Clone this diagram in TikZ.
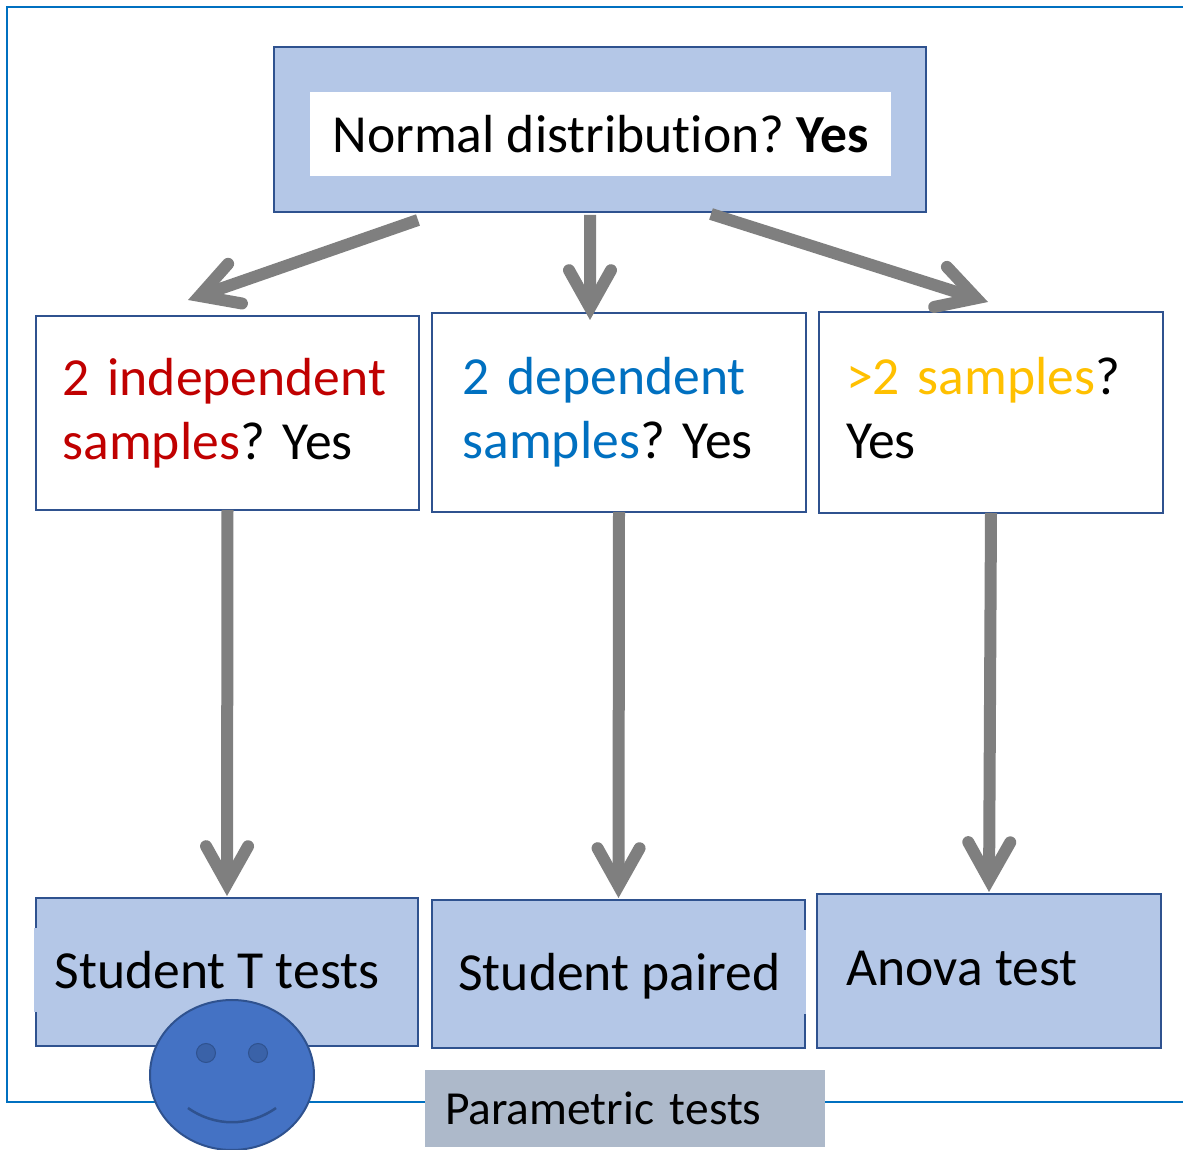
\documentclass[tikz,border=0pt]{standalone}
\usepackage{fontspec}
\setmainfont{Carlito}[Ligatures=NoCommon]
\frenchspacing
\usetikzlibrary{arrows.meta,shapes.geometric}
\definecolor{boxblue}{HTML}{B4C7E7}
\definecolor{boxline}{HTML}{2F528F}
\definecolor{framecol}{HTML}{0070C0}
\definecolor{arrowgray}{HTML}{7F7F7F}
\definecolor{tagfill}{HTML}{ADB9CA}
\definecolor{smilefill}{HTML}{4472C4}
\definecolor{eyefill}{HTML}{3A62A8}
\definecolor{redtxt}{HTML}{C00000}
\definecolor{yellowtxt}{HTML}{FFC000}
\tikzset{
    txt/.style={font=\fontsize{30.5}{36.4}\selectfont, text=black},
    box/.style={draw=boxline, line width=.05cm, rectangle, outer sep=0pt, txt},
    filledbox/.style={box, fill=boxblue},
    whitebox/.style={box, fill=white, align=left, text width=#1, inner xsep=0pt},
    cover/.style={rectangle, fill=boxblue, inner sep=0pt, text depth=0pt, txt},
    flow/.style={draw=arrowgray, line width=.24cm,
        -{Straight Barb[length=.75cm, width=.84cm, line cap=round, line join=miter]}},
    flowdown/.style={flow, shorten >=.04cm}
}
\begin{document}
\begin{tikzpicture}
    \useasboundingbox (0cm,0cm) rectangle (23.66cm,23cm);

    \coordinate (frameTR) at (23.66cm,22.86cm);
    \coordinate (frameTL) at (.14cm,22.86cm);
    \coordinate (frameBL) at (.14cm,.96cm);
    \coordinate (frameBR) at (23.66cm,.96cm);
    \draw[framecol, line width=.055cm] (frameTR) -- (frameTL) -- (frameBL) -- (frameBR);

    \node[filledbox,
    minimum width = 13.04cm,
    minimum height = 3.3cm
    ](top) at (12cm,20.41cm) {};
    \node[rectangle,
    fill=white,
    txt,
    inner sep=0pt,
    minimum width = 11.62cm,
    minimum height = 1.68cm
    ](toplabel) at (12.01cm,20.32cm) {Normal distribution? \textbf{Yes}};

    \node[whitebox=6.6cm,
    minimum width = 7.66cm,
    minimum height = 3.88cm
    ](indep) at (4.55cm,14.74cm) {\textcolor{redtxt}{2 independent\\samples}? Yes};
    \node[whitebox=6.26cm,
    minimum width = 7.48cm,
    minimum height = 3.98cm
    ](dep) at (12.38cm,14.75cm) {\textcolor{framecol}{2 dependent\\samples}? Yes};
    \node[whitebox=5.8cm,
    minimum width = 6.88cm,
    minimum height = 4.02cm
    ](many) at (19.82cm,14.75cm) {\textcolor{yellowtxt}{>2 samples}?\\Yes\vphantom{p}};

    \node[filledbox,
    minimum width = 7.64cm,
    minimum height = 2.96cm
    ](student) at (4.54cm,3.56cm) {};
    \node[cover,
    minimum width = 7.32cm,
    minimum height = 1.68cm
    ](studentlabel) at (4.34cm,3.6cm) {Student T tests};
    \node[filledbox,
    minimum width = 7.46cm,
    minimum height = 2.96cm
    ](paired) at (12.37cm,3.52cm) {};
    \node[cover,
    minimum width = 7.46cm,
    minimum height = 1.68cm
    ](pairedlabel) at (12.39cm,3.56cm) {Student paired};
    \node[filledbox,
    minimum width = 6.88cm,
    minimum height = 3.08cm
    ](anova) at (19.78cm,3.58cm) {};
    \node[txt](anovalabel) at (19.24cm,3.62cm) {Anova test};

    \draw[flow] ([xshift=-3.64cm,yshift=-.16cm]top.south) -- ([xshift=-.79cm,yshift=.32cm]indep.north);
    \draw[flow] ([xshift=-.2cm,yshift=-.06cm]top.south) -- ([xshift=-.58cm,yshift=-.14cm]dep.north);
    \draw[flow] ([xshift=2.22cm,yshift=-.04cm]top.south) -- ([xshift=-.06cm,yshift=.2cm]many.north);
    \draw[flowdown] (indep.south) -- (student.north);
    \draw[flowdown] (dep.south) -- (paired.north);
    \draw[flowdown] (many.south) -- (anova.north);

    \node[rectangle,
    fill=tagfill,
    txt,
    font=\fontsize{27}{32}\selectfont,
    align=left,
    text width = 7.2cm,
    inner xsep=.4cm,
    inner ysep=0pt,
    minimum height = 1.54cm
    ](tag) at (12.5cm,.83cm) {\raisebox{-.02cm}{Parametric tests}};

    \node[ellipse,
    draw=boxline,
    fill=smilefill,
    line width=.04cm,
    inner sep=0pt,
    minimum width = 3.28cm,
    minimum height = 3cm
    ](face) at (4.64cm,1.5cm) {};
    \node[circle,
    draw=boxline,
    fill=eyefill,
    line width=.02cm,
    inner sep=0pt,
    minimum size = .38cm
    ](eyeL) at (4.12cm,1.94cm) {};
    \node[circle,
    draw=boxline,
    fill=eyefill,
    line width=.02cm,
    inner sep=0pt,
    minimum size = .38cm
    ](eyeR) at (5.16cm,1.94cm) {};
    \coordinate (mouthL) at (3.76cm,.84cm);
    \coordinate (mouthR) at (5.52cm,.84cm);
    \draw[boxline, line width=.05cm] (mouthL) .. controls (4.3cm,.46cm) and (4.98cm,.46cm) .. (mouthR);
\end{tikzpicture}
\end{document}
